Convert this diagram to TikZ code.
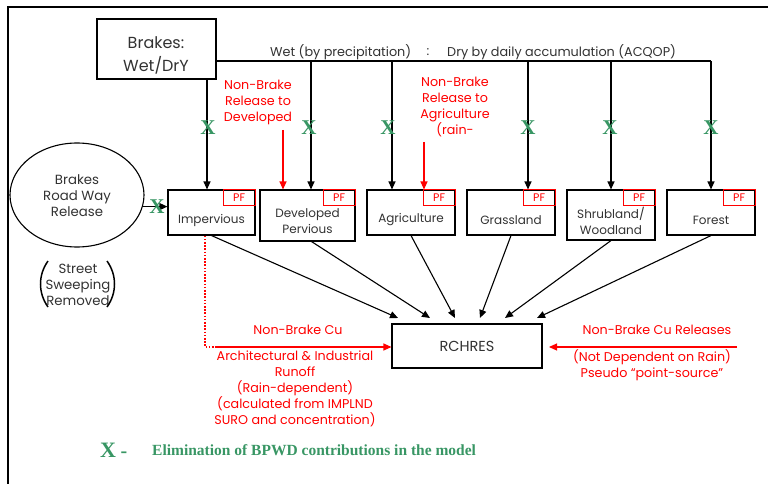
\documentclass[tikz,border=0pt]{standalone}
\usepackage{fontspec}
\setmainfont{Poppins}
\newfontfamily\serifleg{Liberation Serif}
\usetikzlibrary{arrows.meta,shapes.geometric}
\definecolor{xgreen}{RGB}{56,150,100}
\definecolor{txtgray}{RGB}{50,50,50}
\begin{document}
\begin{tikzpicture}[x=1pt,y=-1pt,
  lbl/.style={font=\fontsize{12}{16}\selectfont, text=txtgray, align=center, inner sep=0},
  rlbl/.style={font=\fontsize{12.7}{16}\selectfont, text=red, align=center, inner sep=0},
  box/.style={draw=black, line width=1.1pt, inner sep=0},
  pf/.style={draw=red, line width=0.9pt, minimum width=32pt, minimum height=16pt, inner sep=0, text=red, font=\fontsize{11}{11}\selectfont, anchor=north east},
  arr/.style={line width=1.1pt, -{Triangle[length=8pt,width=7pt]}},
  rarr/.style={red, line width=1.1pt, -{Triangle[length=8pt,width=7pt]}},
  xm/.style={text=xgreen, font=\serifleg\bfseries\fontsize{21}{21}\selectfont, inner sep=0},
]
\useasboundingbox (0,0) rectangle (768,484);
\draw[line width=2pt] (8,484) -- (8,7) -- (768,7);

% Brakes box
\node[box, minimum width=119pt, minimum height=60pt] (brakes) at (156.5,49) {};
\node[lbl, font=\fontsize{16}{23}\selectfont] (brakest) at (156,55) {Brakes:\\Wet/DrY};

% bus
\coordinate (b0) at (207,79);
\coordinate (b1) at (311,61);
\coordinate (b2) at (392,61);
\coordinate (b3) at (528,61);
\coordinate (b4) at (611,61);
\coordinate (busE) at (711,61);
\draw[line width=1.1pt] (brakes.east |- busE) -- (busE);
\node[lbl, font=\fontsize{12.8}{16}\selectfont, anchor=west] (wet) at (270,52) {Wet (by precipitation)};
\node[lbl, font=\fontsize{12.8}{16}\selectfont] (colon) at (428,52) {:};
\node[lbl, font=\fontsize{12.8}{16}\selectfont, anchor=west] (dry) at (447,52) {Dry by daily accumulation (ACQOP)};

% land boxes
\node[box, minimum width=87pt, minimum height=45pt] (imp) at (211.5,212.5) {};
\node[pf] (impPF) at (imp.north east) {PF};
\node[lbl] (impT) at (211.5,220) {Impervious};

\node[box, minimum width=95pt, minimum height=51pt] (dev) at (307.5,215.5) {};
\node[pf] (devPF) at (dev.north east) {PF};
\node[lbl] (devT) at (307.5,221) {Developed\\Pervious};

\node[box, minimum width=88pt, minimum height=45pt] (agr) at (411,212.5) {};
\node[pf] (agrPF) at (agr.north east) {PF};
\node[lbl] (agrT) at (411,220) {Agriculture};

\node[box, minimum width=88pt, minimum height=45pt] (gra) at (511,212.5) {};
\node[pf] (graPF) at (gra.north east) {PF};
\node[lbl] (graT) at (511,220) {Grassland};

\node[box, minimum width=88pt, minimum height=50pt] (shr) at (611,215) {};
\node[pf] (shrPF) at (shr.north east) {PF};
\node[lbl] (shrT) at (611,221) {Shrubland/\\Woodland};

\node[box, minimum width=88pt, minimum height=45pt] (for) at (711,212.5) {};
\node[pf] (forPF) at (for.north east) {PF};
\node[lbl] (forT) at (711,220) {Forest};

% drops
\draw[arr] (b0 |- brakes.south) -- (b0 |- imp.north);
\draw[arr] (b1) -- (b1 |- dev.north);
\draw[arr] (b2) -- (b2 |- agr.north);
\draw[arr] (b3) -- (b3 |- gra.north);
\draw[arr] (b4) -- (b4 |- shr.north);
\draw[arr] (busE) -- (busE |- for.north);

% ellipse
\node[ellipse, draw, line width=1.1pt, minimum width=134pt, minimum height=104pt, inner sep=0] (ell) at (77,195) {};
\node[lbl, font=\fontsize{13.3}{16}\selectfont] (ellT) at (77,195.5) {Brakes\\Road Way\\Release};
\draw[arr] (ell.-10) -- (ell.-10 -| imp.west);

% green X marks
\node[xm] (x0) at (208,128) {X};
\node[xm] (x1) at (309,128) {X};
\node[xm] (x2) at (388,128) {X};
\node[xm] (x3) at (528,128) {X};
\node[xm] (x4) at (610,128) {X};
\node[xm] (x5) at (711,128) {X};
\node[xm] (x6) at (157,207) {X};

% street sweeping
\node[lbl, font=\fontsize{13.3}{16}\selectfont] (ss) at (78,285) {Street\\Sweeping\\Removed};
\draw[line width=1.5pt] (48,261) .. controls (38,275) and (38,293) .. (48,307);
\draw[line width=1.5pt] (107,261) .. controls (117,275) and (117,293) .. (107,307);

% red non-brake releases
\node[rlbl] (nbd) at (258,102) {Non-Brake\\Release to\\Developed};
\coordinate (nbdA) at (283,130);
\draw[rarr] (nbdA) -- (nbdA |- dev.north);
\node[rlbl] (nba) at (455,106.5) {Non-Brake\\Release to\\Agriculture\\(rain-};
\coordinate (nbaA) at (424,142);
\draw[rarr] (nbaA) -- (nbaA |- agr.north);

% RCHRES
\node[box, lbl, draw=black, font=\fontsize{14.5}{16}\selectfont, minimum width=150pt, minimum height=44pt] (rch) at (467,346) {RCHRES};
\coordinate (t1) at (398,318);
\coordinate (t2) at (430,318);
\coordinate (t3) at (455,318);
\coordinate (t4) at (480,318);
\coordinate (t5) at (505,318);
\coordinate (t6) at (537,318);
\draw[arr] (imp.south) -- (t1);
\draw[arr] ([xshift=4pt]dev.south) -- (t2);
\draw[arr] (agr.south) -- (t3);
\draw[arr] (gra.south) -- (t4);
\draw[arr] (shr.south) -- (t5);
\draw[arr] (for.south) -- (t6);

% non-brake Cu
\coordinate (dc) at (205,347);
\coordinate (ns) at (217,347);
\draw[red, dash pattern=on 1.6pt off 1.6pt, line width=1.3pt] (dc |- imp.south) -- (dc) -- (ns);
\draw[rarr] (ns) -- (rch.west |- ns);
\node[rlbl] (nbc) at (298,330) {Non-Brake Cu};
\node[rlbl] (arch) at (295,389) {Architectural \& Industrial\\Runoff\\(Rain-dependent)\\(calculated from IMPLND\\SURO and concentration)};

\coordinate (rs) at (737,347);
\coordinate (rt) at (549,347);
\draw[rarr] (rs) -- (rt);
\node[rlbl] (nbcr) at (657,330) {Non-Brake Cu Releases};
\node[rlbl] (nd) at (652,365) {(Not Dependent on Rain)\\Pseudo “point-source”};

% legend
\node[xm, font=\serifleg\bfseries\fontsize{22}{22}\selectfont] (lx) at (108,450) {X};
\node[text=xgreen, font=\serifleg\bfseries\fontsize{20}{20}\selectfont, inner sep=0] (ld) at (124,455) {-};
\node[anchor=west, text=xgreen, font=\serifleg\bfseries\fontsize{15.5}{16}\selectfont, inner sep=0] (leg) at (152,450) {Elimination of BPWD contributions in the model};
\end{tikzpicture}
\end{document}
